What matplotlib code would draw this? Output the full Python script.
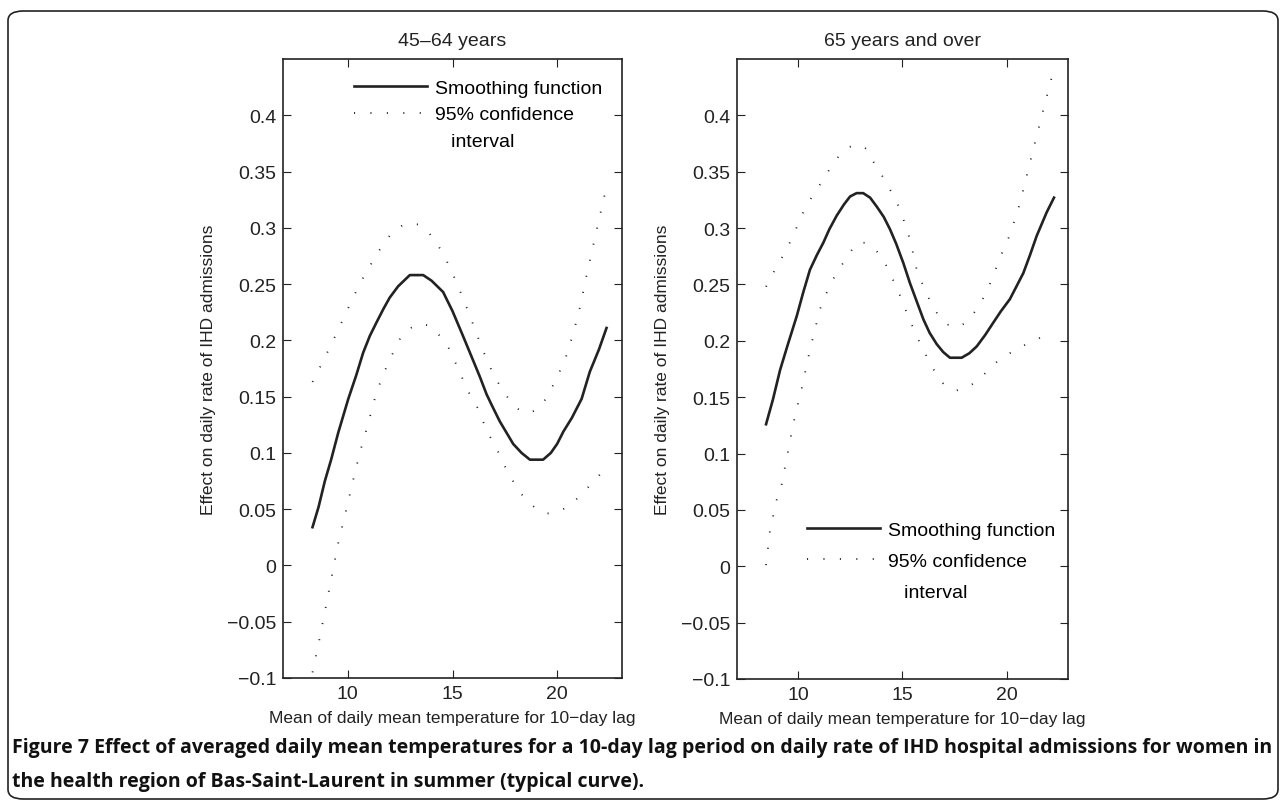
import matplotlib.pyplot as plt
import numpy as np
from matplotlib.lines import Line2D
from matplotlib.patches import FancyBboxPatch
from matplotlib.ticker import FuncFormatter

plt.rcParams['font.family'] = ['Liberation Sans', 'DejaVu Sans']

# 45-64 years: smoothing function and 95% CI
x_a = [8.31, 8.6, 8.9, 9.2, 9.54, 10.02, 10.4, 10.73, 11.05, 11.37, 11.7, 12.0, 12.4,
       12.96, 13.6, 14.0, 14.55, 15.0, 15.5, 15.9, 16.3, 16.63, 16.94, 17.26, 17.58,
       17.9, 18.3, 18.7, 19.33, 19.7, 20.0, 20.3, 20.7, 21.17, 21.56, 22.0, 22.36]
fit_a = [0.034, 0.052, 0.075, 0.094, 0.118, 0.148, 0.169, 0.189, 0.204, 0.216, 0.228,
         0.238, 0.248, 0.258, 0.258, 0.253, 0.243, 0.226, 0.204, 0.186, 0.168, 0.152,
         0.140, 0.128, 0.118, 0.108, 0.100, 0.094, 0.094, 0.100, 0.108, 0.119, 0.131,
         0.148, 0.172, 0.192, 0.211]

xu_a = [8.31, 8.8, 9.3, 9.8, 10.25, 10.65, 11.05, 11.5, 12.0, 12.4, 12.8, 13.36, 13.8,
        14.16, 14.55, 14.95, 15.4, 15.83, 16.23, 16.63, 17.0, 17.42, 17.8, 18.14, 18.6,
        19.1, 19.5, 19.97, 20.4, 20.77, 21.1, 21.4, 21.65, 21.9, 22.28]
up_a = [0.163, 0.181, 0.2, 0.22, 0.238, 0.253, 0.266, 0.28, 0.293, 0.3, 0.304, 0.303,
        0.297, 0.289, 0.277, 0.262, 0.242, 0.222, 0.202, 0.183, 0.168, 0.155, 0.145,
        0.139, 0.135, 0.139, 0.149, 0.166, 0.184, 0.206, 0.23, 0.257, 0.278, 0.299, 0.33]

xl_a = [8.31, 8.66, 9.1, 9.54, 9.94, 10.33, 10.6, 10.92, 11.37, 11.7, 12.0, 12.56,
        13.0, 13.44, 13.9, 14.3, 14.72, 15.05, 15.43, 15.8, 16.23, 16.63, 17.18, 17.66,
        18.22, 18.6, 19.02, 19.5, 20.06, 20.5, 20.93, 21.3, 21.72, 22.2]
lo_a = [-0.095, -0.064, -0.022, 0.02, 0.051, 0.082, 0.102, 0.123, 0.154, 0.170, 0.183,
        0.204, 0.211, 0.215, 0.213, 0.206, 0.197, 0.184, 0.168, 0.153, 0.139, 0.12,
        0.101, 0.082, 0.065, 0.057, 0.05, 0.046, 0.048, 0.052, 0.059, 0.066, 0.074, 0.084]

# 65 years and over
x_b = [8.47, 8.8, 9.14, 9.5, 9.94, 10.25, 10.57, 10.9, 11.21, 11.5, 11.85, 12.2, 12.49,
       12.8, 13.12, 13.45, 13.77, 14.1, 14.4, 14.7, 15.04, 15.36, 15.7, 16.0, 16.3,
       16.64, 16.95, 17.27, 17.83, 18.2, 18.55, 18.95, 19.34, 19.7, 20.14, 20.78,
       21.1, 21.42, 21.9, 22.25]
fit_b = [0.126, 0.148, 0.174, 0.196, 0.222, 0.243, 0.263, 0.276, 0.287, 0.299, 0.311,
         0.321, 0.328, 0.331, 0.331, 0.327, 0.319, 0.31, 0.299, 0.286, 0.269, 0.251,
         0.234, 0.219, 0.207, 0.197, 0.19, 0.185, 0.185, 0.189, 0.195, 0.205, 0.216,
         0.226, 0.237, 0.26, 0.276, 0.293, 0.314, 0.327]

xu_b = [8.47, 8.98, 9.4, 9.78, 10.25, 10.7, 11.21, 11.6, 12.0, 12.45, 12.93, 13.3,
        13.6, 14.24, 14.88, 15.36, 15.68, 16.16, 16.64, 17.2, 17.67, 18.1, 18.47, 18.9,
        19.27, 19.67, 20.14, 20.62, 21.18, 21.74, 22.2]
up_b = [0.248, 0.266, 0.279, 0.294, 0.314, 0.329, 0.343, 0.355, 0.365, 0.372, 0.374,
        0.37, 0.359, 0.34, 0.317, 0.29, 0.263, 0.241, 0.225, 0.214, 0.212, 0.217, 0.226,
        0.239, 0.254, 0.274, 0.294, 0.322, 0.364, 0.405, 0.438]

xl_b = [8.47, 8.66, 8.98, 9.14, 9.46, 9.78, 10.18, 10.57, 11.05, 11.53, 11.95, 12.33,
        12.81, 13.28, 13.7, 14.08, 14.32, 14.8, 15.2, 15.68, 16.16, 16.71, 17.1, 17.59,
        18.05, 18.55, 19.0, 19.5, 20.38, 21.26, 22.22]
lo_b = [0.001, 0.032, 0.059, 0.065, 0.096, 0.127, 0.158, 0.192, 0.228, 0.25, 0.263,
        0.274, 0.287, 0.287, 0.281, 0.272, 0.263, 0.244, 0.225, 0.204, 0.186, 0.167,
        0.159, 0.156, 0.158, 0.164, 0.172, 0.181, 0.192, 0.2, 0.208]

titles = ['45\u201364 years', '65 years and over']
xlabel = 'Mean of daily mean temperature for 10\u2212day lag'
ylabel = 'Effect on daily rate of IHD admissions'
yticks = [-0.1, -0.05, 0, 0.05, 0.1, 0.15, 0.2, 0.25, 0.3, 0.35, 0.4]
xticks = [10, 15, 20]

W, H = 1282, 804
fig = plt.figure(figsize=(W / 100, H / 100), dpi=100)

frame = FancyBboxPatch((8 / W, 4 / H), 1270 / W, 788 / H,
                       boxstyle='round,pad=0,rounding_size=0.012',
                       transform=fig.transFigure, fill=False, ec='#222222', lw=1.2)
fig.patches.append(frame)

ax1 = fig.add_axes([283 / W, 1 - 679 / H, 339 / W, 619 / H])
ax2 = fig.add_axes([737 / W, 1 - 680 / H, 331 / W, 620 / H])

dot = (0, (0.6, 8.5))
ink = '#222222'


def fmt(v, pos):
    s = '%g' % round(v, 2)
    return s.replace('-', '\u2212')


panels = [(ax1, x_a, fit_a, xu_a, up_a, xl_a, lo_a, (6.9, 23.1)),
          (ax2, x_b, fit_b, xu_b, up_b, xl_b, lo_b, (7.08, 22.92))]

for i, (ax, x, f, xu, u, xl, l, xlim) in enumerate(panels):
    ax.plot(x, f, color=ink, lw=1.9)
    ax.plot(xu, u, color=ink, lw=1.3, ls=dot)
    ax.plot(xl, l, color=ink, lw=1.3, ls=dot)
    ax.set_xlim(*xlim)
    ax.set_ylim(-0.1, 0.45)
    ax.set_xticks(xticks)
    ax.set_yticks(yticks)
    ax.yaxis.set_major_formatter(FuncFormatter(fmt))
    ax.tick_params(direction='in', top=True, right=True, length=6, width=0.8,
                   labelsize=14, colors='#222222', pad=5)
    for sp in ax.spines.values():
        sp.set_linewidth(1.2)
        sp.set_color('#222222')
    ax.set_title(titles[i], fontsize=14, pad=10, color='#222222')
    ax.set_xlabel(xlabel, fontsize=12.5, color='#222222', labelpad=6)
    ax.set_ylabel(ylabel, fontsize=12.5, color='#222222', labelpad=8)

handles = [Line2D([], [], color=ink, lw=1.9),
           Line2D([], [], color=ink, lw=1.3, ls=dot),
           Line2D([], [], color='none')]
labels = ['Smoothing function', '95% confidence', '   interval']
for ax, anchor, sp in [(ax1, (0.209, 0.967), 0.45), (ax2, (0.211, 0.254), 0.68)]:
    ax.legend(handles, labels, loc='upper left', bbox_to_anchor=anchor,
              frameon=False, fontsize=14, handlelength=3.76, handletextpad=0.4,
              labelspacing=sp, borderpad=0, borderaxespad=0)

cap = ('Effect of averaged daily mean temperatures for a 10-day lag period on daily rate '
       'of IHD hospital admissions for women in')
fig.text(12 / W, 1 - 748 / H, 'Figure 7 ' + cap, fontsize=14, fontweight='bold',
         va='center', ha='left', color='#111111', family=['Open Sans', 'DejaVu Sans'])
fig.text(12 / W, 1 - 782 / H,
         'the health region of Bas-Saint-Laurent in summer (typical curve).',
         fontsize=14, fontweight='bold', va='center', ha='left', color='#111111',
         family=['Open Sans', 'DejaVu Sans'])

fig.savefig('out.png', dpi=100)
